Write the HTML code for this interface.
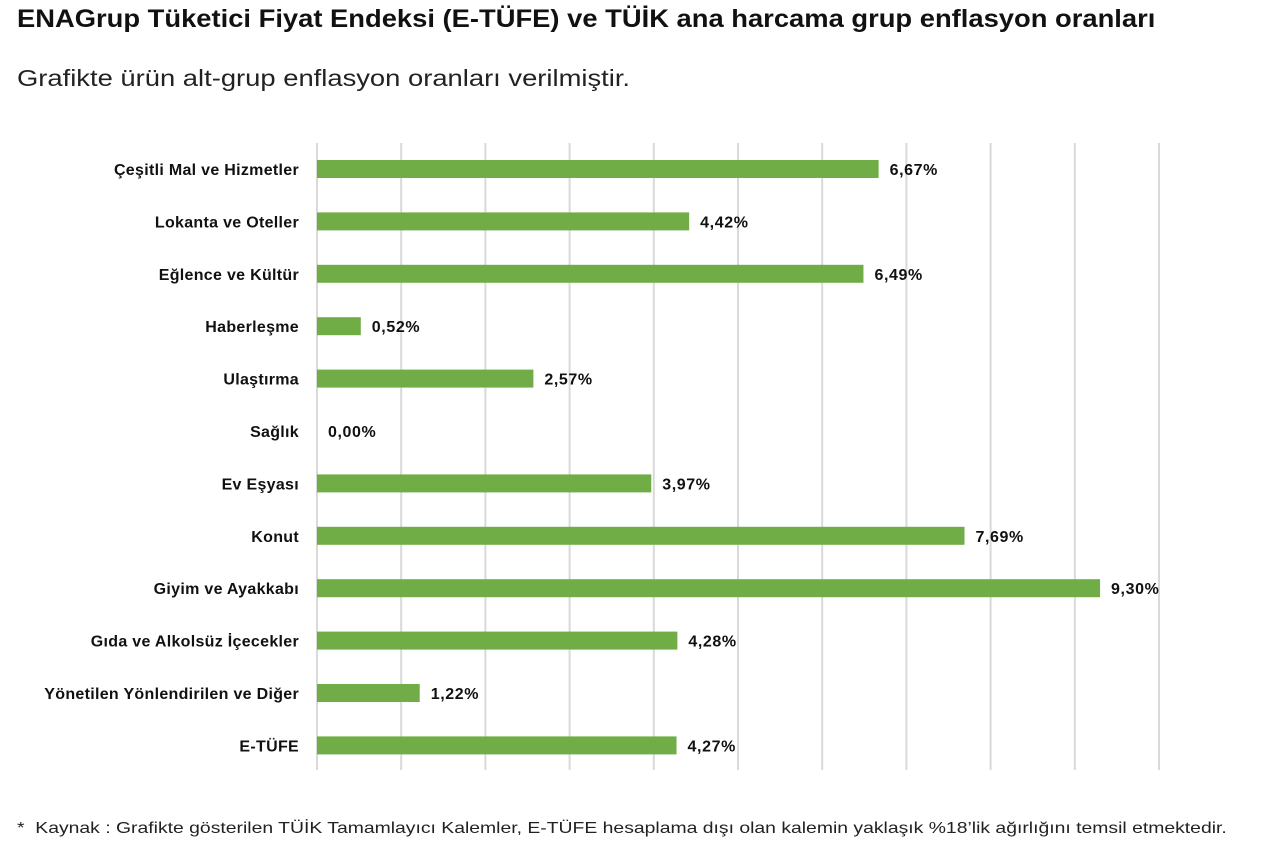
<!DOCTYPE html>
<html><head><meta charset="utf-8"><style>
body{margin:0;width:1280px;height:853px;background:#fff;overflow:hidden;font-family:"Liberation Sans",sans-serif;}
#title{position:absolute;left:17px;top:5px;font-size:25px;font-weight:bold;color:#111;margin:0;white-space:nowrap;transform:scaleX(1.094);transform-origin:left top;}
#sub{position:absolute;left:17px;top:65px;font-size:23px;color:#222;white-space:nowrap;transform:scaleX(1.19);transform-origin:left top;}
#foot{position:absolute;left:17px;top:820px;font-size:16px;color:#222;white-space:nowrap;transform:scaleX(1.21);transform-origin:left top;}
</style></head><body>
<div id="title">ENAGrup Tüketici Fiyat Endeksi (E-TÜFE) ve TÜİK ana harcama grup enflasyon oranları</div>
<div id="sub">Grafikte ürün alt-grup enflasyon oranları verilmiştir.</div>
<svg id="chart" width="1280" height="853" style="position:absolute;left:0;top:0"></svg>
<div id="foot">*&nbsp; Kaynak : Grafikte gösterilen TÜİK Tamamlayıcı Kalemler, E-TÜFE hesaplama dışı olan kalemin yaklaşık %18’lik ağırlığını temsil etmektedir.</div>
<script>
const categories=["Çeşitli Mal ve Hizmetler","Lokanta ve Oteller","Eğlence ve Kültür","Haberleşme","Ulaştırma","Sağlık","Ev Eşyası","Konut","Giyim ve Ayakkabı","Gıda ve Alkolsüz İçecekler","Yönetilen Yönlendirilen ve Diğer","E-TÜFE"];
const values=[6.67,4.42,6.49,0.52,2.57,0.00,3.97,7.69,9.30,4.28,1.22,4.27];
const ticks=[0,1,2,3,4,5,6,7,8,9,10];
const NS="http://www.w3.org/2000/svg";
const svg=document.getElementById('chart');
const x0=317,x1=1159,xmax=10;
const xs=v=>x0+(v/xmax)*(x1-x0);
const yTop=143,yBot=770,step=52.4,firstC=169;
const yc=i=>firstC+i*step;
function mk(t,a){const e=document.createElementNS(NS,t);for(const k in a)e.setAttribute(k,a[k]);svg.appendChild(e);return e;}
ticks.forEach(t=>{
 const l=mk('line',{x1:xs(t),x2:xs(t),y1:yTop,y2:yBot,stroke:'#d9d9d9','stroke-width':2});
 
 
});
categories.forEach((c,i)=>{
 const lab=mk('text',{x:299,y:yc(i)+6,'text-anchor':'end','font-size':16,'letter-spacing':0.3,'font-weight':'bold',fill:'#111','font-family':'Liberation Sans, sans-serif'});
 lab.textContent=c;
 
 
 const w=xs(values[i])-x0;
 const r=mk('rect',{x:x0,y:yc(i)-9,width:Math.max(w,0),height:18,fill:'#70ad47'});
 
 
 const v=mk('text',{x:xs(values[i])+11,y:yc(i)+6,'font-size':16,'letter-spacing':0.6,'font-weight':'bold',fill:'#111','font-family':'Liberation Sans, sans-serif'});
 v.textContent=values[i].toFixed(2).replace('.',',')+'%';
 
 
});
</script>
</body></html>
